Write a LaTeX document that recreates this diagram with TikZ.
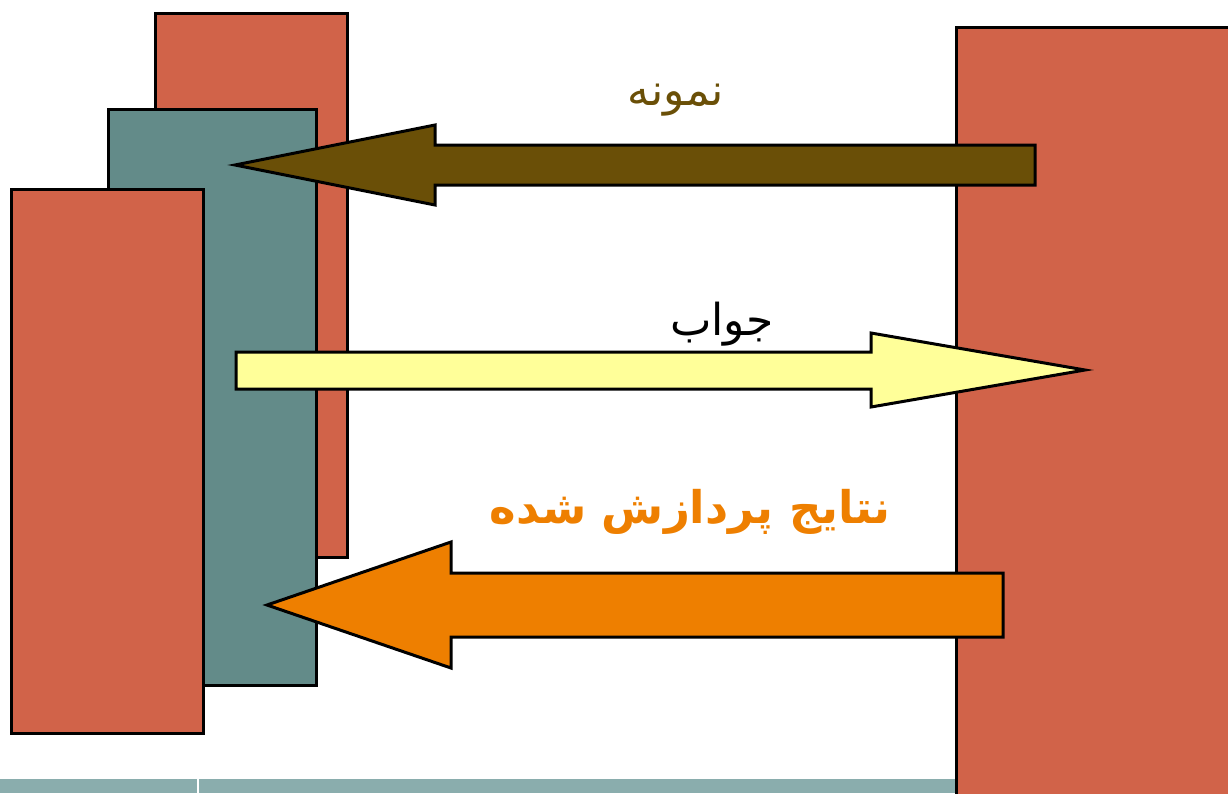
\documentclass[tikz,border=0pt]{standalone}
\usepackage{fontspec}
\TeXXeTstate=1
\newfontfamily\arabicfont[Script=Arabic]{DejaVu Sans}
\definecolor{tred}{HTML}{D16349}
\definecolor{tteal}{HTML}{638B89}
\definecolor{tbrown}{HTML}{6A4F07}
\definecolor{tyellow}{HTML}{FFFF99}
\definecolor{torange}{HTML}{EE7F00}
\definecolor{tband}{HTML}{8AADAD}
\begin{document}
\begin{tikzpicture}[x=1pt,y=-1pt,
  blk/.style={draw=black,line width=3pt},
  arr/.style={draw=black,line width=3pt,line join=miter},
  lbl/.style={inner sep=0pt,font=\arabicfont}]
\useasboundingbox (0,0) rectangle (1228,793);
% bottom band
\fill[tband] (0,779) rectangle (955,793);
\draw[white,line width=2pt] (198,779) -- (198,793);
% left stack
\draw[blk,fill=tred] (155,13) rectangle (347,557);
\draw[blk,fill=tteal] (108,109) rectangle (316,685);
\draw[blk,fill=tred] (11,189) rectangle (203,733);
% right block
\draw[blk,fill=tred] (956,27) rectangle (1235,800);
% arrows
\draw[arr,fill=tbrown] (235,165) -- (435,125) -- (435,145) -- (1035,145) -- (1035,185) -- (435,185) -- (435,205) -- cycle;
\draw[arr,fill=tyellow] (1085,370) -- (871,333) -- (871,352) -- (236,352) -- (236,389) -- (871,389) -- (871,407) -- cycle;
\draw[arr,fill=torange] (267,605) -- (451,542) -- (451,573) -- (1003,573) -- (1003,637) -- (451,637) -- (451,668) -- cycle;
% labels
\node[lbl,text=tbrown,font=\arabicfont\fontsize{44}{50}\selectfont] (t1) at (676,100) {\beginR نمونه\endR};
\node[lbl,text=black,font=\arabicfont\fontsize{44}{50}\selectfont] (t2) at (722,324) {\beginR جواب\endR};
\node[lbl,text=torange,font=\arabicfont\bfseries\fontsize{45}{52}\selectfont] (t3) at (690,512) {\beginR نتایج پردازش شده\endR};
\end{tikzpicture}
\end{document}
